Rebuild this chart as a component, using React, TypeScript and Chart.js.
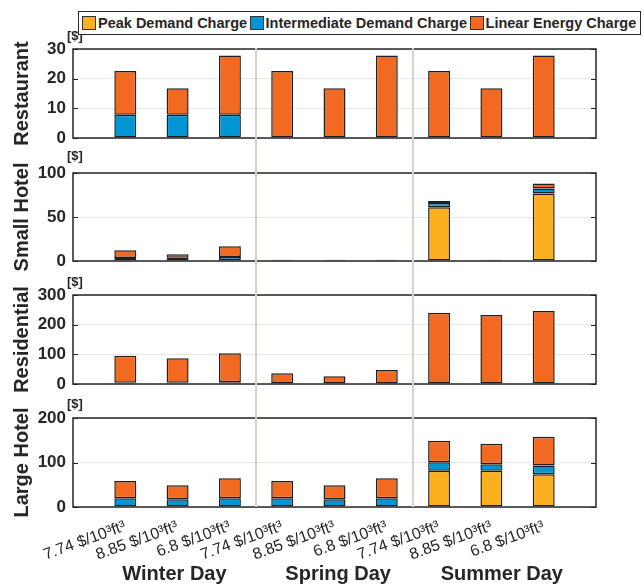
import React, { useEffect, useRef } from 'react';
import { Chart, registerables } from 'chart.js';

Chart.register(...registerables);

// ---- data -----------------------------------------------------------------
const X_LABELS = [
  '7.74 $/10³ft³', '8.85 $/10³ft³', '6.8 $/10³ft³',
  '7.74 $/10³ft³', '8.85 $/10³ft³', '6.8 $/10³ft³',
  '7.74 $/10³ft³', '8.85 $/10³ft³', '6.8 $/10³ft³',
];
const SEASONS = ['Winter Day', 'Spring Day', 'Summer Day'];
const SERIES_NAMES = ['Peak Demand Charge', 'Intermediate Demand Charge', 'Linear Energy Charge'];
const SERIES_COLORS = ['#FBB11F', '#0095D5', '#F26A22'];
const BUILDINGS = ['Restaurant', 'Small Hotel', 'Residential', 'Large Hotel'];
const Y_MAX = [30, 100, 300, 200];
const Y_STEP = [10, 50, 100, 100];

const RESTAURANT_PEAK = [0, 0, 0, 0, 0, 0, 0, 0, 0];
const RESTAURANT_INTERMEDIATE = [7.8, 7.8, 7.8, 0, 0, 0, 0, 0, 0];
const RESTAURANT_LINEAR = [14.8, 9.0, 20.0, 22.6, 16.8, 27.8, 22.6, 16.8, 27.8];

const SMALL_HOTEL_PEAK = [0, 0, 0, 0, 0, 0, 61, 0, 76.6];
const SMALL_HOTEL_INTERMEDIATE = [3.4, 3.8, 4.5, 0, 0, 0, 5, 0, 5.7];
const SMALL_HOTEL_LINEAR = [8.8, 3.8, 12.2, 1.5, 1.5, 1.5, 2.2, 1.5, 5.7];

const RESIDENTIAL_PEAK = [0, 0, 0, 0, 0, 0, 0, 0, 0];
const RESIDENTIAL_INTERMEDIATE = [4, 4, 6, 0, 0, 0, 0, 0, 0];
const RESIDENTIAL_LINEAR = [91.4, 82.6, 97.5, 36, 26, 47, 240, 232.6, 246];

const LARGE_HOTEL_PEAK = [0, 0, 0, 0, 0, 0, 81.2, 81.2, 73.7];
const LARGE_HOTEL_INTERMEDIATE = [19.6, 17.3, 19.6, 19.6, 17.3, 19.6, 19.6, 15.1, 19.5];
const LARGE_HOTEL_LINEAR = [39, 31.6, 45.1, 39, 31.6, 45.1, 48, 45.7, 64.6];

const PANEL_SERIES = [
  [RESTAURANT_PEAK, RESTAURANT_INTERMEDIATE, RESTAURANT_LINEAR],
  [SMALL_HOTEL_PEAK, SMALL_HOTEL_INTERMEDIATE, SMALL_HOTEL_LINEAR],
  [RESIDENTIAL_PEAK, RESIDENTIAL_INTERMEDIATE, RESIDENTIAL_LINEAR],
  [LARGE_HOTEL_PEAK, LARGE_HOTEL_INTERMEDIATE, LARGE_HOTEL_LINEAR],
];

// ---- layout ---------------------------------------------------------------
const W = 644;
const H = 585;
const PLOT_LEFT = 73;
const PLOT_RIGHT = 596;
const PANEL_TOP = [49, 173, 295, 418];
const PANEL_BOTTOM = [138, 261, 384, 507];
const UNIT_GAP = [9, 13, 9, 10]; // baseline of the "[$]" tag above each panel
const X_AXIS_HEIGHT = 60;
const SEASON_X = [1.94, 5.07, 8.2];
const SEPARATOR_X = [3.5, 6.5];
const FONT = '"Liberation Sans", Arial, Helvetica, sans-serif';
const INK = '#262626';

Chart.defaults.font.family = FONT;

function panelPlugin(index: number) {
  const last = index === BUILDINGS.length - 1;
  return {
    id: 'panelFrame' + index,
    afterDraw(chart: any) {
      const { ctx, chartArea: a, scales } = chart;
      const y = scales.y;
      const x = scales.x;
      ctx.save();
      // inward y ticks on both sides
      ctx.strokeStyle = INK;
      ctx.lineWidth = 1;
      y.ticks.forEach((t: any) => {
        const py = Math.round(y.getPixelForValue(t.value)) + 0.5;
        ctx.beginPath();
        ctx.moveTo(a.left, py);
        ctx.lineTo(a.left + 5, py);
        ctx.moveTo(a.right - 5, py);
        ctx.lineTo(a.right, py);
        ctx.stroke();
      });
      // axes box
      ctx.lineWidth = 1.5;
      ctx.strokeRect(a.left, a.top, a.right - a.left, a.bottom - a.top);
      // unit tag
      ctx.fillStyle = INK;
      ctx.font = `bold 13px ${FONT}`;
      ctx.textAlign = 'left';
      ctx.textBaseline = 'alphabetic';
      ctx.fillText('[$]', a.left - 6, a.top - UNIT_GAP[index]);

      if (last) {
        // day separators spanning all four panels
        ctx.strokeStyle = '#d6d2cc';
        ctx.lineWidth = 2;
        SEPARATOR_X.forEach((v) => {
          const px = x.getPixelForValue(v);
          ctx.beginPath();
          ctx.moveTo(px, PANEL_TOP[0] - 1);
          ctx.lineTo(px, a.bottom);
          ctx.stroke();
        });
        // season captions
        ctx.fillStyle = INK;
        ctx.font = `bold 20px ${FONT}`;
        ctx.textAlign = 'center';
        SEASONS.forEach((s, i) => {
          ctx.fillText(s, x.getPixelForValue(SEASON_X[i]), 580);
        });
      }
      ctx.restore();
    },
  };
}

function makeChart(canvas: HTMLCanvasElement, index: number) {
  const last = index === BUILDINGS.length - 1;
  const series = PANEL_SERIES[index];
  return new Chart(canvas, {
    type: 'bar',
    data: {
      datasets: series.map((values, s) => ({
        label: SERIES_NAMES[s],
        data: values.map((v, i) => ({ x: i + 1, y: v })),
        backgroundColor: SERIES_COLORS[s],
        borderColor: '#1f1f1f',
        borderWidth: 1.5,
        borderSkipped: false,
        barPercentage: 1,
        categoryPercentage: 0.42,
      })),
    },
    options: {
      responsive: false,
      animation: false,
      devicePixelRatio: 1,
      layout: {
        padding: {
          left: 0,
          right: W - PLOT_RIGHT,
          top: PANEL_TOP[index],
          bottom: H - PANEL_BOTTOM[index] - (last ? X_AXIS_HEIGHT : 0),
        },
      },
      plugins: { legend: { display: false }, tooltip: { enabled: false } },
      scales: {
        x: {
          type: 'linear',
          min: 0,
          max: 10,
          offset: false,
          stacked: true,
          grid: { display: false },
          border: { display: false },
          ticks: {
            display: last,
            stepSize: 1,
            autoSkip: false,
            minRotation: 20,
            maxRotation: 20,
            padding: 2,
            color: INK,
            font: { size: 16, family: FONT },
            callback: (v: any) => X_LABELS[Number(v) - 1] ?? '',
          },
          afterFit: (scale: any) => {
            scale.height = last ? X_AXIS_HEIGHT : 0;
          },
        },
        y: {
          min: 0,
          max: Y_MAX[index],
          stacked: true,
          grid: { color: '#e6e6e6', lineWidth: 1, drawTicks: false },
          border: { display: false },
          ticks: {
            stepSize: Y_STEP[index],
            padding: 7,
            color: INK,
            font: { size: 17, weight: 'bold', family: FONT },
          },
          title: {
            display: true,
            text: BUILDINGS[index],
            color: INK,
            padding: { top: 10, bottom: 0 },
            font: { size: 20, weight: 'bold', family: FONT },
          },
          afterFit: (scale: any) => {
            scale.width = PLOT_LEFT;
          },
        },
      },
    },
    plugins: [panelPlugin(index)],
  } as any);
}

function Legend() {
  return (
    <div
      style={{
        position: 'absolute',
        left: 78,
        top: 11,
        width: 563,
        height: 24,
        boxSizing: 'border-box',
        border: '1px solid #2b2b2b',
        display: 'flex',
        alignItems: 'center',
        fontFamily: FONT,
        fontWeight: 'bold',
        fontSize: 14.5,
        color: INK,
        whiteSpace: 'nowrap',
        background: '#fff',
      }}
    >
      {SERIES_NAMES.map((name, i) => (
        <React.Fragment key={name}>
          <span
            style={{
              display: 'inline-block',
              width: 14,
              height: 14,
              boxSizing: 'border-box',
              marginLeft: i === 0 ? 3 : 2.5,
              border: '1px solid #333',
              background: SERIES_COLORS[i],
            }}
          />
          <span style={{ marginLeft: 2 }}>{name}</span>
        </React.Fragment>
      ))}
    </div>
  );
}

export default function App() {
  const refs = [
    useRef<HTMLCanvasElement>(null),
    useRef<HTMLCanvasElement>(null),
    useRef<HTMLCanvasElement>(null),
    useRef<HTMLCanvasElement>(null),
  ];

  useEffect(() => {
    const charts = refs.map((r, i) => makeChart(r.current as HTMLCanvasElement, i));
    return () => charts.forEach((c) => c.destroy());
  }, []);

  return (
    <div style={{ position: 'absolute', left: 0, top: 0, width: W, height: H, background: '#fff' }}>
      {refs.map((r, i) => (
        <canvas
          key={i}
          ref={r}
          width={W}
          height={H}
          style={{ position: 'absolute', left: 0, top: 0, width: W, height: H }}
        />
      ))}
      <Legend />
    </div>
  );
}
